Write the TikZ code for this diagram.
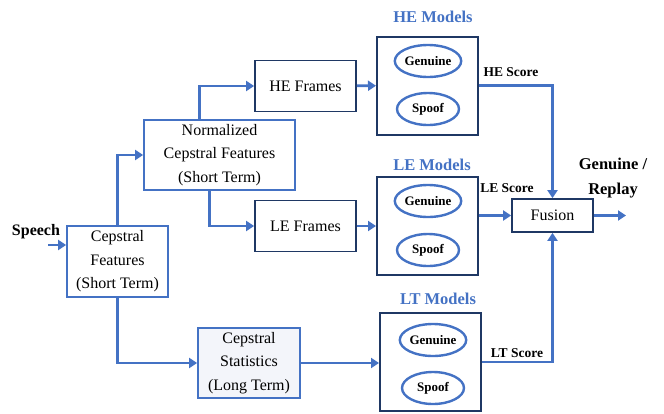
\documentclass[tikz,border=0pt]{standalone}
\usepackage{fontspec}
\setmainfont{Liberation Serif}
\usetikzlibrary{arrows.meta}
\usetikzlibrary{shapes.geometric}
\definecolor{lineblue}{HTML}{4472C4}
\definecolor{boxnavy}{HTML}{1F3864}
\definecolor{statfill}{HTML}{F3F5FA}

\begin{document}
\begin{tikzpicture}[x=1pt,y=-1pt,>={Triangle[length=8pt,width=10pt]}, % pixel grid, y downwards
  font=\fontsize{16}{23.5}\selectfont,
  feat/.style={draw=lineblue,line width=1.8pt,fill=white,align=center,inner sep=0pt},
  frame/.style={draw=boxnavy,line width=1.8pt,align=center,minimum width=101pt,minimum height=51pt},
  model/.style={draw=boxnavy,line width=2pt,minimum width=101pt,minimum height=98pt},
  gmm/.style={ellipse,draw=lineblue,line width=2.4pt,fill=white,minimum width=62pt,minimum height=32pt,
    inner sep=0pt,font=\bfseries\fontsize{13}{14}\selectfont},
  flow/.style={->,draw=lineblue,line width=2.6pt},
  ttl/.style={text=lineblue,font=\bfseries\fontsize{16.5}{18}\selectfont},
  lbl/.style={font=\bfseries\fontsize{13.5}{15}\selectfont}]

  \useasboundingbox (0,0) rectangle (664,413);

  % feature boxes
  \node[feat,minimum width=101pt,minimum height=71pt](cf) at (117.5,261.5) {Cepstral\\Features\\(Short Term)};
  \node[feat,minimum width=151pt,minimum height=70pt](ncf) at (219.5,155) {Normalized\\Cepstral Features\\(Short Term)};
  \node[feat,fill=statfill,minimum width=102pt,minimum height=70pt](cs) at (249,363) {Cepstral\\Statistics\\(Long Term)};

  \node[frame](hef) at (305.5,86) {HE Frames};
  \node[frame](lef) at (305.5,226) {LE Frames};

  % model boxes
  \node[model](hem) at (427.5,85.5) {};
  \node[model](lem) at (427.5,226) {};
  \node[model](ltm) at (430.5,362) {};
  \node[ttl](hemt) at (433,17) {HE Models};
  \node[ttl](lemt) at (432,165) {LE Models};
  \node[ttl](ltmt) at (438,299) {LT Models};

  \node[gmm](heg) at (428,61) {Genuine};
  \node[gmm](hes) at (428,109) {Spoof};
  \node[gmm](leg) at (428,201) {Genuine};
  \node[gmm](les) at (428,250) {Spoof};
  \node[gmm](ltg) at (433,340) {Genuine};
  \node[gmm](lts) at (433,388) {Spoof};

  \node[draw=boxnavy,line width=1.8pt,minimum width=81pt,minimum height=33pt](fus) at (552.5,215.5) {Fusion};

  % inputs and outputs
  \node[font=\bfseries\fontsize{16}{18}\selectfont](speech) at (36,232) {Speech};
  \coordinate (in) at (48,245);
  \coordinate (out) at (626,215.5);
  \node[font=\bfseries\fontsize{16.5}{25}\selectfont,align=center](dec) at (613,178) {Genuine /\\Replay};

  % score labels
  \node[lbl](hesc) at (511,72) {HE Score};
  \node[lbl](lesc) at (507,188) {LE Score};
  \node[lbl](ltsc) at (517,353) {LT Score};

  \draw[flow] (in) -- (in -| cf.west);
  \draw[flow] (cf.north) |- (ncf.west);
  \draw[flow] ([xshift=-20pt]ncf.north) |- (hef.west);
  \draw[flow] ([xshift=-10pt]ncf.south) |- (lef.west);
  \draw[flow] (cf.south) |- (cs.west);
  \draw[flow] (cs.east) -- (cs.east -| ltm.west);
  \draw[flow] (hef) -- (hem);
  \draw[flow] (lef) -- (lem);

  \draw[flow] (hem.east) -| (fus.north);
  \draw[flow] (lem.east |- fus.west) -- (fus.west);
  \draw[flow] (ltm.east) -| (fus.south);
  \draw[flow] (fus.east) -- (out);

\end{tikzpicture}
\end{document}
